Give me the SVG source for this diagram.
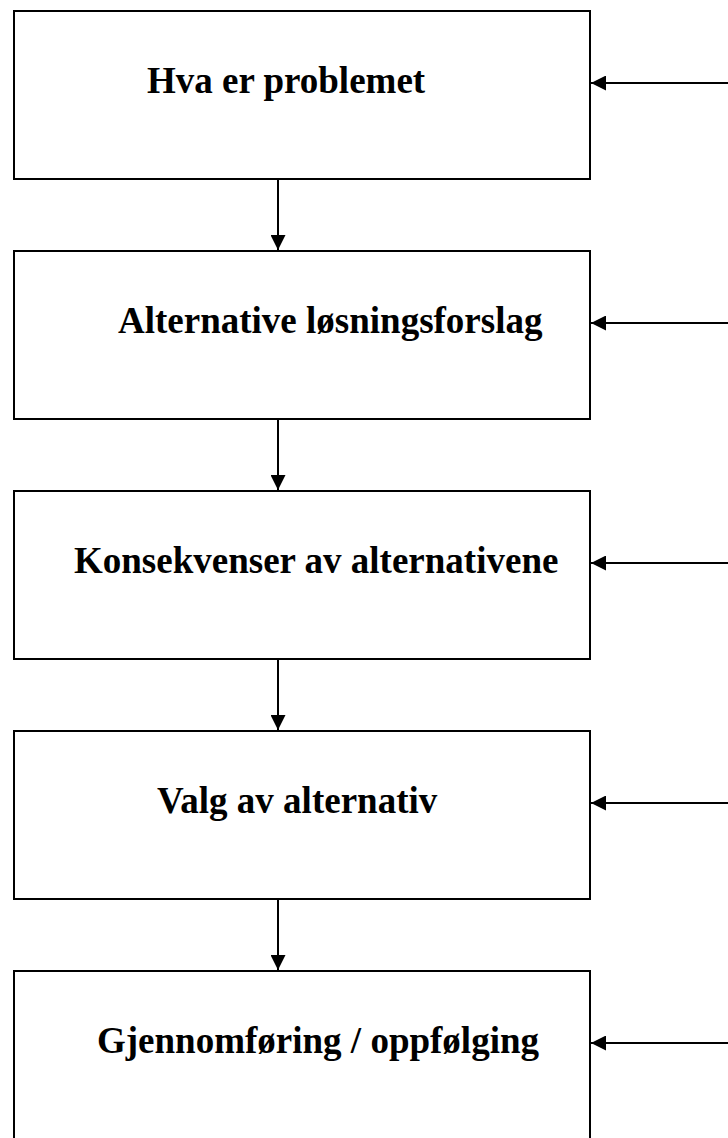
<svg xmlns="http://www.w3.org/2000/svg" width="728" height="1138" viewBox="0 0 728 1138">
  <style>
    .box { fill: #ffffff; stroke: #000000; stroke-width: 2; }
    .lbl { font-family: "Liberation Serif", "Times New Roman", serif; font-weight: bold; font-size: 37px; fill: #000000; }
    .conn { stroke: #000000; stroke-width: 2; fill: none; }
  </style>
  <defs>
    <marker id="head" viewBox="0 0 10 10" refX="10" refY="5" markerWidth="15" markerHeight="15" markerUnits="userSpaceOnUse" orient="auto">
      <path d="M0,0 L10,5 L0,10 Z" fill="#000000"/>
    </marker>
  </defs>
  <rect width="728" height="1138" fill="#ffffff"/>

  <g id="step1">
    <rect class="box" x="14" y="11" width="576" height="168"/>
    <text class="lbl" x="147" y="93">Hva er problemet</text>
  </g>
  <g id="step2">
    <rect class="box" x="14" y="251" width="576" height="168"/>
    <text class="lbl" x="118" y="333">Alternative løsningsforslag</text>
  </g>
  <g id="step3">
    <rect class="box" x="14" y="491" width="576" height="168"/>
    <text class="lbl" x="74" y="573">Konsekvenser av alternativene</text>
  </g>
  <g id="step4">
    <rect class="box" x="14" y="731" width="576" height="168"/>
    <text class="lbl" x="157" y="813">Valg av alternativ</text>
  </g>
  <g id="step5">
    <rect class="box" x="14" y="971" width="576" height="180"/>
    <text class="lbl" x="97" y="1053">Gjennomføring / oppfølging</text>
  </g>

  <g id="connectors">
    <line class="conn" x1="278" y1="179" x2="278" y2="250" marker-end="url(#head)"/>
    <line class="conn" x1="278" y1="419" x2="278" y2="490" marker-end="url(#head)"/>
    <line class="conn" x1="278" y1="659" x2="278" y2="730" marker-end="url(#head)"/>
    <line class="conn" x1="278" y1="899" x2="278" y2="970" marker-end="url(#head)"/>
    <line class="conn" x1="728" y1="83" x2="591" y2="83" marker-end="url(#head)"/>
    <line class="conn" x1="728" y1="323" x2="591" y2="323" marker-end="url(#head)"/>
    <line class="conn" x1="728" y1="563" x2="591" y2="563" marker-end="url(#head)"/>
    <line class="conn" x1="728" y1="803" x2="591" y2="803" marker-end="url(#head)"/>
    <line class="conn" x1="728" y1="1043" x2="591" y2="1043" marker-end="url(#head)"/>
  </g>
</svg>
